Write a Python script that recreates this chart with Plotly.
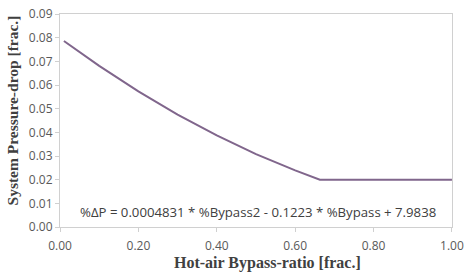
import plotly.graph_objects as go

bypass = [0.01, 0.10, 0.20, 0.30, 0.40, 0.50, 0.60, 0.663, 0.70, 0.80, 0.90, 1.00]
pressure_drop = [0.0786, 0.0681, 0.0573, 0.0475, 0.0387, 0.0308, 0.0239, 0.0200, 0.0200, 0.0200, 0.0200, 0.0200]
x_ticks = [0.0, 0.2, 0.4, 0.6, 0.8, 1.0]
y_ticks = [0.00, 0.01, 0.02, 0.03, 0.04, 0.05, 0.06, 0.07, 0.08, 0.09]
equation = "%ΔP = 0.0004831 * %Bypass2 - 0.1223 * %Bypass + 7.9838"
x_title = "Hot-air Bypass-ratio [frac.]"
y_title = "System Pressure-drop [frac.]"

fig = go.Figure()
fig.add_trace(go.Scatter(x=bypass, y=pressure_drop, mode="lines",
                         line=dict(color="#80668C", width=2), showlegend=False))

axis_common = dict(showline=True, linecolor="#D0D0D0", linewidth=1, mirror=True,
                   showgrid=False, zeroline=False, ticks="outside", ticklen=4,
                   tickcolor="#D0D0D0", ticklabeloverflow="allow",
                   tickfont=dict(family="Open Sans, Liberation Sans", size=12, color="#595959"))

fig.update_xaxes(range=[0, 1.0001], tickvals=x_ticks, tickformat=".2f", ticklabelstandoff=4,
                 **axis_common)
fig.update_yaxes(range=[0, 0.09001], tickvals=y_ticks, tickformat=".2f",
                 **axis_common)

title_font = dict(family="Liberation Serif", size=16, color="#404040", weight="bold")
fig.add_annotation(x=0.529, y=-0.171, xref="paper", yref="paper", text=x_title,
                   showarrow=False, font=title_font, xanchor="center", yanchor="middle")
fig.add_annotation(x=-0.121, y=0.545, xref="paper", yref="paper", text=y_title, textangle=-90,
                   showarrow=False, font=dict(title_font, size=15.5), xanchor="center", yanchor="middle")

fig.add_annotation(x=0.505, y=0.0065, xref="x", yref="y", text=equation, showarrow=False,
                   font=dict(family="Open Sans, Liberation Sans", size=13.2, color="#404040"))

fig.update_layout(width=469, height=274, margin=dict(l=60, r=11, t=5, b=47),
                  paper_bgcolor="white", plot_bgcolor="white")

fig.write_html("out.html")
